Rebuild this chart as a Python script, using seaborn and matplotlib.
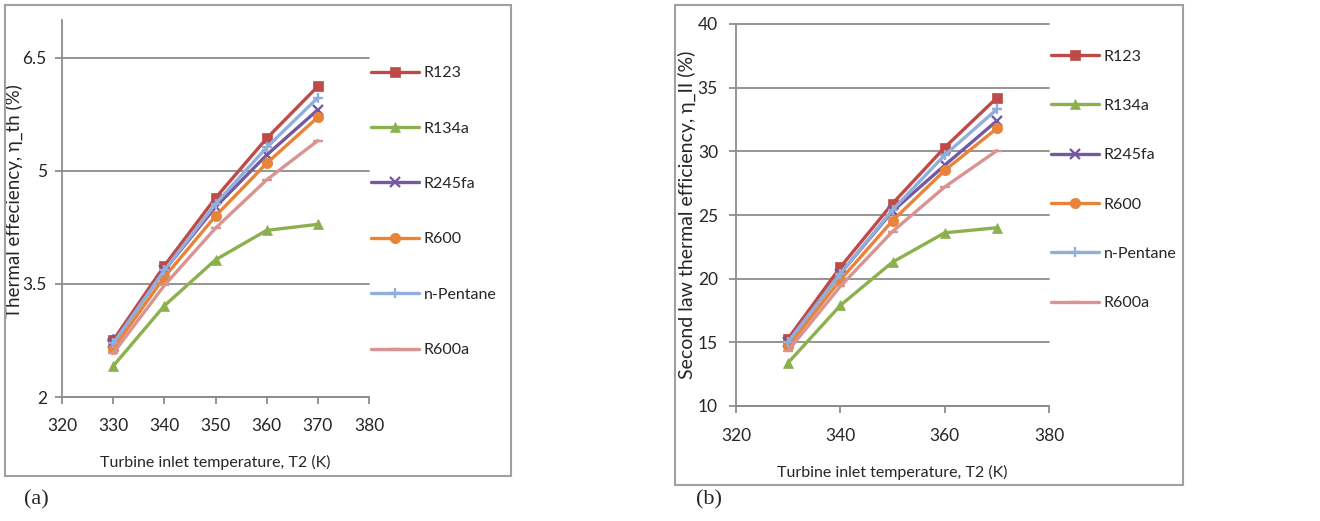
import numpy as np
import pandas as pd
import seaborn as sns
import matplotlib.pyplot as plt
from matplotlib.patches import Rectangle

#####################
### Data
#####################

temps = [330, 340, 350, 360, 370]
fluids = ["R123", "R134a", "R245fa", "R600", "n-Pentane", "R600a"]

# (a) thermal efficiency (%)
eff_R123 = [2.75, 3.74, 4.64, 5.43, 6.12]
eff_R134a = [2.41, 3.21, 3.82, 4.21, 4.29]
eff_R245fa = [2.71, 3.68, 4.52, 5.21, 5.81]
eff_R600 = [2.64, 3.59, 4.40, 5.10, 5.71]
eff_nPentane = [2.71, 3.68, 4.56, 5.31, 5.97]
eff_R600a = [2.58, 3.48, 4.24, 4.88, 5.40]
# lone first-series point (blue diamond) hidden under the curves at 330 K
eff_extra_x = [330]
eff_extra_y = [2.75]

# (b) second law thermal efficiency (%)
sec_R123 = [15.3, 20.9, 25.9, 30.3, 34.2]
sec_R134a = [13.4, 17.9, 21.3, 23.6, 24.0]
sec_R245fa = [15.05, 20.4, 25.3, 28.9, 32.4]
sec_R600 = [14.7, 19.9, 24.55, 28.5, 31.8]
sec_nPentane = [15.05, 20.4, 25.4, 29.7, 33.3]
sec_R600a = [14.35, 19.4, 23.7, 27.2, 30.05]

colors = {"R123": "#BE4B48", "R134a": "#8DB04F", "R245fa": "#7458A0",
          "R600": "#E8843A", "n-Pentane": "#92AEDA", "R600a": "#D99391"}
markers = {"R123": "s", "R134a": "^", "R245fa": "x", "R600": "o",
           "n-Pentane": "+", "R600a": "_"}

dfA = pd.DataFrame({"T": temps * 6, "fluid": np.repeat(fluids, 5),
                    "val": eff_R123 + eff_R134a + eff_R245fa + eff_R600 + eff_nPentane + eff_R600a})
dfB = pd.DataFrame({"T": temps * 6, "fluid": np.repeat(fluids, 5),
                    "val": sec_R123 + sec_R134a + sec_R245fa + sec_R600 + sec_nPentane + sec_R600a})

sns.set_style("white")
plt.rcParams['font.family'] = ['Lato', 'DejaVu Sans']

W, H = 1320, 521
fig = plt.figure(figsize=(W / 100, H / 100), dpi=100)

def px_axes(l, t, r, b):
    return fig.add_axes([l / W, 1 - b / H, (r - l) / W, (b - t) / H])

grid_col = "#8C8C8C"

def draw_panel(ax, df, ylim, yticks, xticks, ylabel, leg_anchor, spacing, xpad, ypad, ylabsize):
    for f in fluids:
        sub = df[df["fluid"] == f]
        sns.lineplot(data=sub, x="T", y="val", ax=ax, color=colors[f], marker=markers[f],
                     linewidth=2.4, markersize=7.5, markeredgewidth=1.7 if markers[f] in "x+_" else 0.5,
                     markeredgecolor=colors[f], label=f)
    ax.set_xlim(320, 380)
    ax.set_ylim(*ylim)
    ax.set_xticks(xticks)
    ax.set_yticks(yticks)
    ax.set_yticklabels([("%g" % v) for v in yticks])
    for v in yticks:
        ax.axhline(v, color=grid_col, lw=1.3, zorder=0, clip_on=False)
    for s in ["top", "right"]:
        ax.spines[s].set_visible(False)
    for s in ["left", "bottom"]:
        ax.spines[s].set_color(grid_col)
        ax.spines[s].set_linewidth(1.3)
    ax.tick_params(axis="x", direction="out", length=5, width=1.3, color=grid_col,
                   labelsize=12.5, pad=xpad, bottom=True)
    ax.tick_params(axis="y", direction="out", length=5, width=1.3, color=grid_col,
                   labelsize=12.5, pad=ypad, left=True)
    ax.set_xlabel("Turbine inlet temperature, T2 (K)", fontsize=11.5, labelpad=15)
    ax.set_ylabel(ylabel, fontsize=ylabsize)
    ax.legend(loc="upper left", bbox_to_anchor=leg_anchor, frameon=False, fontsize=11.5,
              handlelength=3.0, labelspacing=spacing, handletextpad=0.3, borderaxespad=0)

axA = px_axes(62, 20, 369, 397)
draw_panel(axA, dfA, (2, 7), [2, 3.5, 5, 6.5], [320, 330, 340, 350, 360, 370, 380],
           "Thermal effeciency, η_th (%)", (0.985, 0.895), 2.58, 10, 6, 13.5)
axA.plot(eff_extra_x, eff_extra_y, marker="D", color="#4F81BD", markersize=6, zorder=1)
axA.yaxis.set_label_coords(-0.127, 0.52)

axB = px_axes(736, 24, 1049, 406)
draw_panel(axB, dfB, (10, 40), [10, 15, 20, 25, 30, 35, 40], [320, 340, 360, 380],
           "Second law thermal efficiency, η_II (%)", (0.985, 0.95), 2.2, 11, 8, 14)
axB.yaxis.set_label_coords(-0.128, 0.5)

# chart frames
fig.patches.append(Rectangle((5 / W, 1 - 476 / H), 506 / W, 471 / H, transform=fig.transFigure,
                             fill=False, edgecolor="#A0A0A0", lw=1.5))
fig.patches.append(Rectangle((675 / W, 1 - 485 / H), 508 / W, 480 / H, transform=fig.transFigure,
                             fill=False, edgecolor="#A0A0A0", lw=1.5))

fig.text(24 / W, 1 - 500 / H, "(a)", fontsize=16, family="Liberation Serif", va="center")
fig.text(696 / W, 1 - 500 / H, "(b)", fontsize=16, family="Liberation Serif", va="center")

fig.savefig("out.png", dpi=100)
